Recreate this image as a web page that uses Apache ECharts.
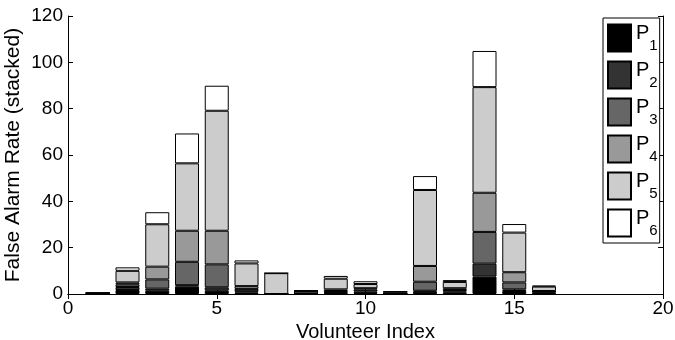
<!DOCTYPE html>
<html>
<head>
<meta charset="utf-8">
<script src="https://cdn.jsdelivr.net/npm/echarts@6/dist/echarts.min.js"></script>
<style>
  html, body { margin: 0; padding: 0; background: #fff; }
  #chart { width: 675px; height: 340px; }
</style>
</head>
<body>
<div id="chart"></div>
<script>
  // volunteer index on x, stacked false alarm rate per probe level
  const volunteers = [1, 2, 3, 4, 5, 6, 7, 8, 9, 10, 11, 12, 13, 14, 15, 16];
  const p1 = [0.2, 1.7, 1.4, 3.2, 1.4, 0.6, 0, 0.2, 0.4, 0.5, 0, 1.0, 0.6, 7.5, 1.3, 0.6];
  const p2 = [0, 1.3, 0.9, 0.6, 1.5, 0.6, 0, 0, 0.3, 0.6, 0, 0.4, 0.5, 5.6, 0.7, 0.4];
  const p3 = [0.2, 1.2, 4.0, 10.1, 9.9, 1.0, 0, 1.2, 0.6, 0.8, 0.2, 3.9, 0.6, 13.7, 3.0, 0];
  const p4 = [0, 0.8, 5.5, 13.4, 14.5, 1.2, 0, 0, 0.7, 0.6, 0, 6.8, 0.8, 16.9, 4.4, 0.3];
  const p5 = [0, 5.0, 18.3, 29.1, 51.8, 9.8, 9.0, 0, 4.6, 1.8, 0.8, 32.8, 2.7, 45.6, 17.1, 1.9];
  const p6 = [0, 1.5, 5.2, 12.9, 10.8, 1.3, 0, 0, 1.2, 1.2, 0, 6.0, 0.8, 15.6, 3.7, 0.4];

  const seriesNames = ['P1', 'P2', 'P3', 'P4', 'P5', 'P6'];
  const seriesData = [p1, p2, p3, p4, p5, p6];
  const seriesColors = ['#000000', '#333333', '#666666', '#999999', '#cccccc', '#ffffff'];

  const xTicks = [0, 5, 10, 15, 20];
  const yTicks = [0, 20, 40, 60, 80, 100, 120];

  const FONT = 'Liberation Sans, Arial, sans-serif';

  // category slots 0..20 so bars sit on the integer ticks
  const xMax = xTicks[xTicks.length - 1];
  const slots = [];
  for (let i = 0; i <= xMax; i++) slots.push(String(i));

  const chart = echarts.init(document.getElementById('chart'), null, { renderer: 'canvas' });

  const series = seriesNames.map((name, i) => {
    const col = slots.map(() => '-');
    volunteers.forEach((v, k) => { col[v] = seriesData[i][k]; });
    return {
      name: name,
      type: 'bar',
      stack: 'total',
      barWidth: 24,
      itemStyle: {
        color: seriesColors[i],
        borderColor: '#000',
        borderWidth: 1
      },
      emphasis: { disabled: true },
      data: col
    };
  });

  const tickEvery = (idx) => xTicks.indexOf(Number(slots[idx])) >= 0;

  const option = {
    animation: false,
    backgroundColor: '#fff',
    grid: { left: 68, right: 12, top: 16, bottom: 46, containLabel: false, outerBoundsMode: 'none' },
    legend: {
      orient: 'vertical',
      left: 603,
      top: 18,
      padding: [5, 2, 5, 4],
      itemGap: 7,
      itemWidth: 23,
      itemHeight: 27,
      backgroundColor: '#fff',
      borderColor: '#000',
      borderWidth: 1,
      icon: 'rect',
      data: seriesNames,
      formatter: name => '{p|P}{s|' + name.slice(1) + '}',
      textStyle: {
        fontFamily: FONT,
        color: '#000',
        rich: {
          p: { fontSize: 20, fontFamily: FONT, color: '#000', lineHeight: 30, verticalAlign: 'top' },
          s: { fontSize: 15, fontFamily: FONT, color: '#000', lineHeight: 30, verticalAlign: 'bottom', padding: [12, 0, 0, 0] }
        }
      }
    },
    xAxis: [
      {
        type: 'category',
        data: slots,
        boundaryGap: false,
        name: 'Volunteer Index',
        nameLocation: 'middle',
        nameGap: 26,
        nameTextStyle: { fontFamily: FONT, fontSize: 20, color: '#000' },
        axisLine: { show: true, lineStyle: { color: '#000', width: 1 } },
        axisTick: { show: true, inside: true, length: 5, interval: (i) => tickEvery(i), lineStyle: { color: '#000' } },
        axisLabel: { fontFamily: FONT, fontSize: 19, color: '#000', margin: 5, interval: (i) => tickEvery(i) },
        splitLine: { show: false }
      },
      {
        type: 'category',
        data: slots,
        boundaryGap: false,
        position: 'top',
        axisLine: { show: true, lineStyle: { color: '#000', width: 1 } },
        axisTick: { show: true, inside: true, length: 5, interval: (i) => tickEvery(i), lineStyle: { color: '#000' } },
        axisLabel: { show: false },
        splitLine: { show: false }
      }
    ],
    yAxis: [
      {
        type: 'value',
        min: 0, max: 120, interval: 20,
        name: 'False Alarm Rate (stacked)',
        nameLocation: 'middle',
        nameGap: 44,
        nameMoveOverlap: false,
        nameTextStyle: { fontFamily: FONT, fontSize: 21, color: '#000' },
        axisLine: { show: true, lineStyle: { color: '#000', width: 1 } },
        axisTick: { show: true, inside: true, length: 5, lineStyle: { color: '#000' } },
        axisLabel: {
          fontFamily: FONT, fontSize: 19, color: '#000', margin: 5,
          formatter: v => (yTicks.indexOf(v) >= 0 ? String(v) : '')
        },
        splitLine: { show: false }
      },
      {
        type: 'value',
        position: 'right',
        min: 0, max: 120, interval: 20,
        axisLine: { show: true, lineStyle: { color: '#000', width: 1 } },
        axisTick: { show: true, inside: true, length: 5, lineStyle: { color: '#000' } },
        axisLabel: { show: false },
        splitLine: { show: false }
      }
    ],
    series: series
  };

  chart.setOption(option);
</script>
</body>
</html>
